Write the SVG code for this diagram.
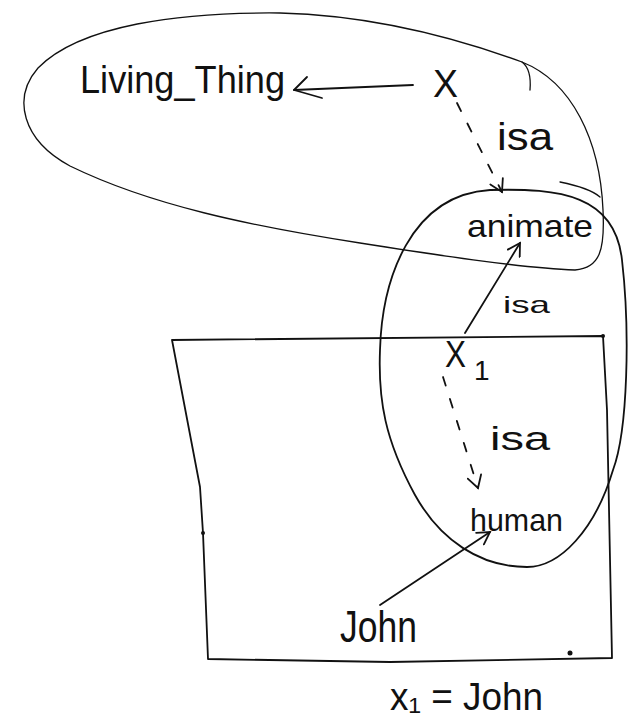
<svg xmlns="http://www.w3.org/2000/svg" width="637" height="719" viewBox="0 0 637 719">
<style>
.ln{fill:none;stroke:#111;stroke-linecap:round;stroke-linejoin:round}
.thin{stroke-width:1.3}
.med{stroke-width:1.8}
.dash{stroke-dasharray:9 14}
text{font-family:"Liberation Sans","DejaVu Sans",sans-serif;fill:#111}
</style>
<defs>
<marker id="ah" markerWidth="16" markerHeight="16" refX="14" refY="8" orient="auto" markerUnits="userSpaceOnUse">
<path d="M2,1 L14,8 L2,15" fill="none" stroke="#111" stroke-width="1.8" stroke-linecap="round"/>
</marker>
</defs>
<rect width="637" height="719" fill="#fff"/>
<g id="regions">
<path id="living-region" class="ln thin" d="M 603,210 C 600,140 572,82 522,62 C 440,32 360,15 280,13 C 180,12 80,25 38,68 C 12,98 22,140 70,166 C 150,205 250,226 360,243 C 430,254 520,268 575,270 C 600,268 605,250 603,210 Z"/>
<path class="ln thin" d="M 522,62 C 530,68 531,78 530,90"/>
<path class="ln thin" d="M 560,182 C 580,186 592,190 600,197"/>
<path id="animate-region" class="ln med" d="M 490,190 C 560,188 615,195 622,260 C 630,330 628,430 613,470 C 595,530 560,567 527,567 C 480,567 440,540 415,495 C 385,440 378,400 380,350 C 382,280 410,195 490,190 Z"/>
<path id="human-box" class="ln med" d="M 172,340 L 603,336 L 607,410 L 612,658 L 390,662 L 208,659 L 203,533 L 200,487 L 172,340"/>
<circle cx="203" cy="533" r="2" fill="#111"/>
<circle cx="570" cy="653" r="2.5" fill="#111"/>
<circle cx="603" cy="336" r="2" fill="#111"/>
</g>
<g id="connectors">
<path class="ln med" d="M 413,85 L 294,90"/>
<path class="ln med" d="M 294,90 L 307,77 M 294,90 L 322,98"/>
<path class="ln med dash" d="M 457,103 L 502,192" marker-end="url(#ah)"/>
<path class="ln med" d="M 465,333 L 520,243" marker-end="url(#ah)"/>
<path class="ln med dash" d="M 443,377 L 478,488" marker-end="url(#ah)"/>
<path class="ln med" d="M 380,605 L 490,532" marker-end="url(#ah)"/>
</g>
<g id="n-living-thing"><text x="80" y="93" font-size="38" textLength="205" lengthAdjust="spacingAndGlyphs">Living_Thing</text></g>
<g id="n-x"><text x="433" y="97" font-size="38" textLength="25" lengthAdjust="spacingAndGlyphs">X</text></g>
<g id="l-isa1"><text x="497" y="150" font-size="38" textLength="56" lengthAdjust="spacingAndGlyphs">isa</text></g>
<g id="n-animate"><text x="467" y="237" font-size="32" textLength="126" lengthAdjust="spacingAndGlyphs">animate</text></g>
<g id="l-isa2"><text x="503" y="313" font-size="24" textLength="47" lengthAdjust="spacingAndGlyphs">isa</text></g>
<g id="n-x1"><text x="445" y="367" font-size="36" textLength="21" lengthAdjust="spacingAndGlyphs">X</text><text x="474" y="380" font-size="28">1</text></g>
<g id="l-isa3"><text x="490" y="450" font-size="34" textLength="60" lengthAdjust="spacingAndGlyphs">isa</text></g>
<g id="n-human"><text x="470" y="531" font-size="32" textLength="93" lengthAdjust="spacingAndGlyphs">human</text></g>
<g id="n-john"><text x="340" y="642" font-size="44" textLength="77" lengthAdjust="spacingAndGlyphs">John</text></g>
<g id="eq"><text x="390" y="710" font-size="38" textLength="153" lengthAdjust="spacingAndGlyphs">x₁ = John</text></g>
</svg>
